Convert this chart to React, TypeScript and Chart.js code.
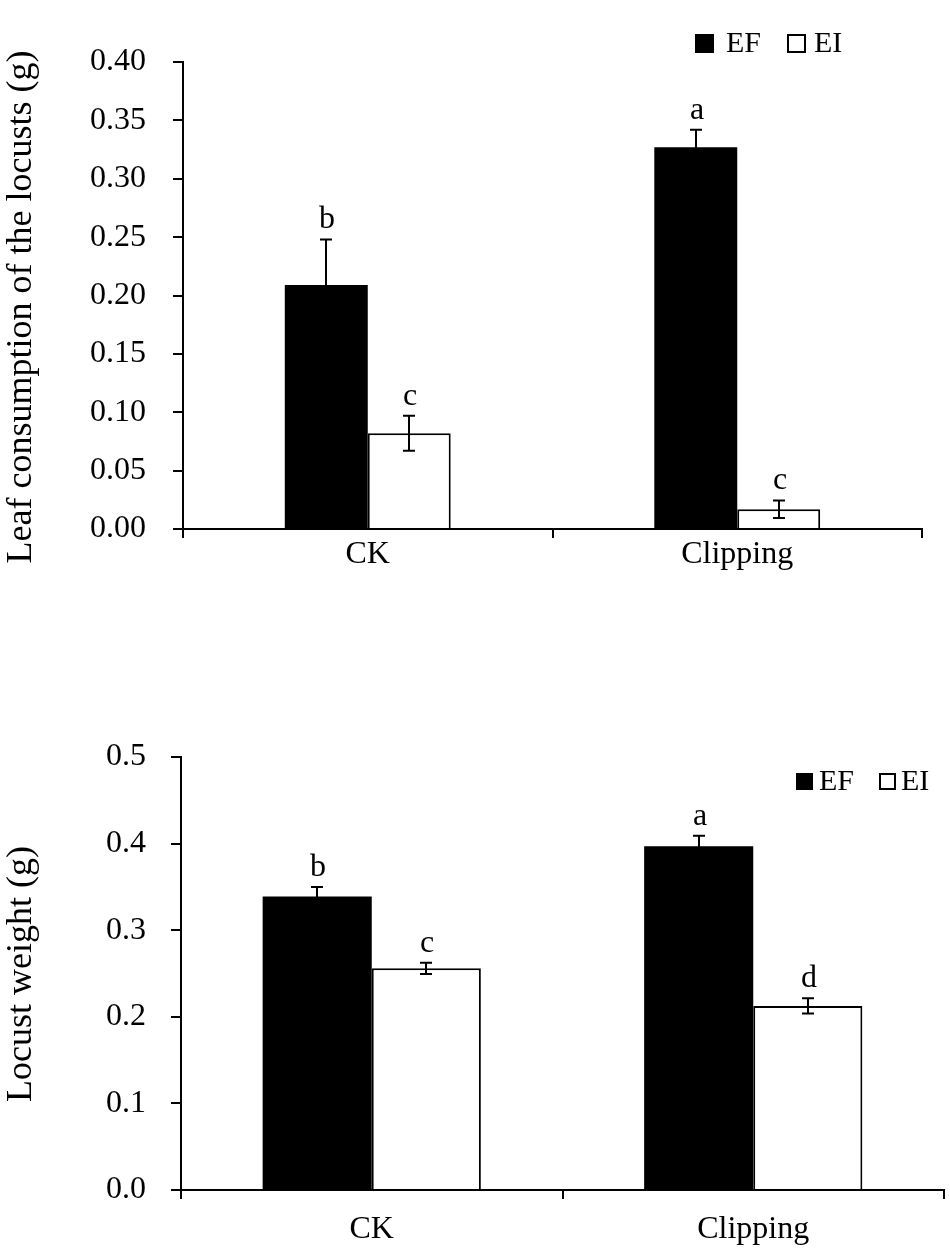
import React, { useEffect, useRef } from 'react';
import { Chart, registerables } from 'chart.js';

Chart.register(...registerables);

// ---------- data ----------
const categories = ['CK', 'Clipping'];
const seriesNames = ['EF', 'EI'];

const leafEF = [0.209, 0.327];
const leafEFErr = [0.039, 0.015];
const leafEI = [0.082, 0.017];
const leafEIErr = [0.015, 0.0075];
const leafEFLetters = ['b', 'a'];
const leafEILetters = ['c', 'c'];
const leafTicks = [0, 0.05, 0.1, 0.15, 0.2, 0.25, 0.3, 0.35, 0.4];
const leafTitle = 'Leaf consumption of the locusts (g)';

const weightEF = [0.339, 0.397];
const weightEFErr = [0.011, 0.012];
const weightEI = [0.256, 0.2125];
const weightEIErr = [0.0065, 0.0088];
const weightEFLetters = ['b', 'a'];
const weightEILetters = ['c', 'd'];
const weightTicks = [0, 0.1, 0.2, 0.3, 0.4, 0.5];
const weightTitle = 'Locust weight (g)';

const FONT = "'Liberation Serif', 'Times New Roman', serif";

type Spec = {
  height: number;
  padTop: number;
  padRight: number;
  yAxisWidth: number;
  xAxisHeight: number;
  yLabelPad: number;
  xLabelPad: number;
  catPct: number;
  ticks: number[];
  decimals: number;
  title: string;
  titleX: number;
  titleY: number;
  ef: number[];
  efErr: number[];
  ei: number[];
  eiErr: number[];
  efLetters: string[];
  eiLetters: string[];
  legend: { y: number; box: number; items: { bx: number; tx: number }[] };
};

const topSpec: Spec = {
  height: 620,
  padTop: 62,
  padRight: 28,
  yAxisWidth: 183,
  xAxisHeight: 91,
  yLabelPad: 27,
  xLabelPad: -3,
  catPct: 0.449,
  ticks: leafTicks,
  decimals: 2,
  title: leafTitle,
  titleX: 22,
  titleY: 307,
  ef: leafEF,
  efErr: leafEFErr,
  ei: leafEI,
  eiErr: leafEIErr,
  efLetters: leafEFLetters,
  eiLetters: leafEILetters,
  legend: { y: 34, box: 19, items: [{ bx: 695, tx: 726 }, { bx: 787, tx: 814 }] },
};

const bottomSpec: Spec = {
  height: 628,
  padTop: 137,
  padRight: 6,
  yAxisWidth: 181,
  xAxisHeight: 58,
  yLabelPad: 25,
  xLabelPad: 11,
  catPct: 0.572,
  ticks: weightTicks,
  decimals: 1,
  title: weightTitle,
  titleX: 22,
  titleY: 354,
  ef: weightEF,
  efErr: weightEFErr,
  ei: weightEI,
  eiErr: weightEIErr,
  efLetters: weightEFLetters,
  eiLetters: weightEILetters,
  legend: { y: 153, box: 17, items: [{ bx: 796, tx: 819 }, { bx: 879, tx: 901 }] },
};

function makeOverlay(spec: Spec) {
  return {
    id: 'overlay',
    afterDatasetsDraw(chart: any) {
      const ctx = chart.ctx;
      const yScale = chart.scales.y;
      const errs = [spec.efErr, spec.eiErr];
      const letters = [spec.efLetters, spec.eiLetters];
      const vals = [spec.ef, spec.ei];
      ctx.save();
      ctx.strokeStyle = '#000';
      ctx.fillStyle = '#000';
      ctx.lineWidth = 2;
      for (let d = 0; d < 2; d++) {
        const meta = chart.getDatasetMeta(d);
        meta.data.forEach((bar: any, i: number) => {
          const x = Math.round(bar.x);
          const v = vals[d][i];
          const e = errs[d][i];
          const yTop = yScale.getPixelForValue(v + e);
          const yBot = yScale.getPixelForValue(v - e);
          const cap = 6;
          ctx.beginPath();
          ctx.moveTo(x, yTop);
          ctx.lineTo(x, yBot);
          ctx.moveTo(x - cap, yTop);
          ctx.lineTo(x + cap, yTop);
          ctx.moveTo(x - cap, yBot);
          ctx.lineTo(x + cap, yBot);
          ctx.stroke();
          ctx.font = `32px ${FONT}`;
          ctx.textAlign = 'center';
          ctx.textBaseline = 'alphabetic';
          ctx.fillText(letters[d][i], x + 1, yTop - 11);
        });
      }
      // axis title
      ctx.save();
      ctx.translate(spec.titleX, spec.titleY);
      ctx.rotate(-Math.PI / 2);
      ctx.font = `36px ${FONT}`;
      ctx.textAlign = 'center';
      ctx.textBaseline = 'middle';
      ctx.fillStyle = '#000';
      ctx.fillText(spec.title, 0, 0);
      ctx.restore();
      // legend
      const lg = spec.legend;
      ctx.font = `30px ${FONT}`;
      ctx.textAlign = 'left';
      ctx.textBaseline = 'middle';
      lg.items.forEach((it, k) => {
        if (k === 0) {
          ctx.fillStyle = '#000';
          ctx.fillRect(it.bx, lg.y, lg.box, lg.box);
        } else {
          ctx.fillStyle = '#fff';
          ctx.fillRect(it.bx, lg.y, lg.box, lg.box);
          ctx.strokeStyle = '#000';
          ctx.lineWidth = 2;
          ctx.strokeRect(it.bx + 1, lg.y + 1, lg.box - 2, lg.box - 2);
        }
        ctx.fillStyle = '#000';
        ctx.fillText(seriesNames[k], it.tx, lg.y + lg.box / 2 + 1);
      });
      ctx.restore();
    },
  };
}

function BarChart({ spec }: { spec: Spec }) {
  const ref = useRef<HTMLCanvasElement>(null);
  useEffect(() => {
    if (!ref.current) return;
    const chart = new Chart(ref.current, {
      type: 'bar',
      data: {
        labels: categories,
        datasets: [
          {
            label: seriesNames[0],
            data: spec.ef,
            backgroundColor: '#000',
            borderColor: '#000',
            borderWidth: 0,
            barPercentage: 1,
            categoryPercentage: spec.catPct,
          },
          {
            label: seriesNames[1],
            data: spec.ei,
            backgroundColor: '#fff',
            borderColor: '#000',
            borderWidth: 2,
            barPercentage: 1,
            categoryPercentage: spec.catPct,
          },
        ],
      },
      options: {
        responsive: false,
        animation: false,
        devicePixelRatio: 1,
        layout: { padding: { top: spec.padTop, right: spec.padRight, left: 0, bottom: 0 } },
        plugins: { legend: { display: false }, tooltip: { enabled: false } },
        scales: {
          x: {
            offset: true,
            grid: {
              display: true,
              offset: true,
              drawOnChartArea: false,
              drawTicks: true,
              tickLength: 9,
              color: '#000',
              lineWidth: 2,
            },
            border: { display: true, color: '#000', width: 2 },
            ticks: { color: '#000', font: { family: FONT, size: 32 }, padding: spec.xLabelPad },
            afterFit: (s: any) => {
              s.height = spec.xAxisHeight;
            },
          },
          y: {
            min: 0,
            max: spec.ticks[spec.ticks.length - 1],
            afterBuildTicks: (s: any) => {
              s.ticks = spec.ticks.map((v) => ({ value: v }));
            },
            grid: {
              display: true,
              drawOnChartArea: false,
              drawTicks: true,
              tickLength: 10,
              color: '#000',
              lineWidth: 2,
            },
            border: { display: true, color: '#000', width: 2 },
            ticks: {
              color: '#000',
              font: { family: FONT, size: 32 },
              padding: spec.yLabelPad,
              callback: (v: any) => Number(v).toFixed(spec.decimals),
            },
            title: { display: false },
            afterFit: (s: any) => {
              s.width = spec.yAxisWidth;
            },
          },
        },
      },
      plugins: [makeOverlay(spec)],
    });
    return () => chart.destroy();
  }, [spec]);
  return <canvas ref={ref} width={950} height={spec.height} style={{ display: 'block' }} />;
}

export default function App() {
  return (
    <div style={{ position: 'absolute', left: 0, top: 0, width: 950, height: 1248, background: '#fff' }}>
      <BarChart spec={topSpec} />
      <BarChart spec={bottomSpec} />
    </div>
  );
}
